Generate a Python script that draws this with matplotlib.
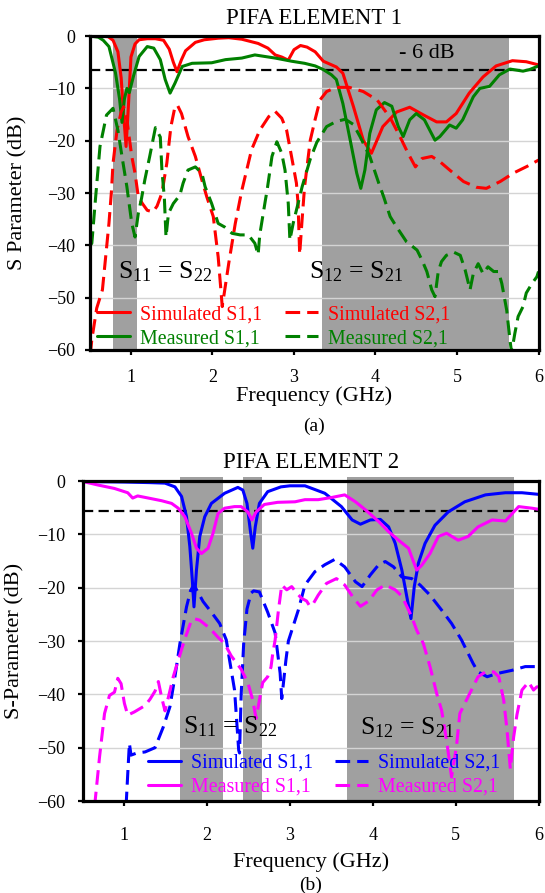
import matplotlib
matplotlib.use("Agg")
import matplotlib.pyplot as plt

plt.rcParams['font.family'] = ['Liberation Serif', 'DejaVu Serif']
plt.rcParams['mathtext.fontset'] = 'custom'
plt.rcParams['mathtext.rm'] = 'Liberation Serif'
plt.rcParams['mathtext.it'] = 'Liberation Serif:italic'

# ---------------- PIFA element 1 ----------------
e1_sim_s11_f = [0.5, 0.6, 0.72, 0.78, 0.84, 0.88, 0.91, 0.94, 0.97, 1.0, 1.05, 1.1, 1.2, 1.3,
                1.4, 1.47, 1.52, 1.565, 1.62, 1.67, 1.79, 1.9, 2.07, 2.2, 2.36, 2.56, 2.68,
                2.77, 2.85, 2.93, 3.0, 3.08, 3.16, 3.26, 3.36, 3.52, 3.6, 3.73, 3.85, 3.95,
                4.09, 4.26, 4.42, 4.58, 4.75, 4.87, 4.99, 5.15, 5.32, 5.48, 5.68, 5.85, 6.0]
e1_sim_s11_db = [0, 0, -0.1, -0.8, -3, -8, -15, -21.1, -13, -4, -1.5, -0.7, -0.5, -0.5,
                 -0.8, -2.5, -5, -6.8, -4.5, -2.8, -1.2, -0.7, -0.4, -0.3, -0.6, -1.4, -2.3,
                 -3.6, -4.0, -4.6, -2.6, -1.8, -2.1, -3.0, -4.8, -5.9, -7.1, -13.5, -19.9, -22.4,
                 -17.3, -14.5, -13.6, -15.0, -16.4, -16.4, -14.8, -10.9, -7.8, -5.7, -4.7, -4.9, -5.5]

e1_meas_s11_f = [0.5, 0.6, 0.66, 0.73, 0.81, 0.86, 0.89, 0.92, 0.95, 0.98, 1.03, 1.1, 1.2, 1.28,
                 1.36, 1.42, 1.48, 1.54, 1.63, 1.75, 1.99, 2.16, 2.36, 2.52, 2.77, 2.97, 3.13,
                 3.26, 3.36, 3.46, 3.52, 3.6, 3.69, 3.77, 3.82, 3.87, 3.93, 4.01, 4.11, 4.2,
                 4.28, 4.34, 4.42, 4.5, 4.6, 4.73, 4.79, 4.91, 4.99, 5.07, 5.2, 5.28, 5.4,
                 5.52, 5.65, 5.81, 5.89, 6.0]
e1_meas_s11_db = [0, -0.2, -0.8, -2.0, -7.0, -12, -16.5, -12, -10, -10.8, -7.7, -3.9, -2.0, -2.3,
                  -4.5, -8.3, -10.9, -9.0, -5.8, -5.2, -5.1, -4.5, -4.2, -3.6, -4.2, -4.8, -5.2,
                  -5.7, -6.4, -7.4, -8.3, -12.9, -19.9, -26.2, -29.1, -25.6, -18.6, -14.1, -12.7, -13.4,
                  -17.3, -19.2, -16.0, -14.8, -16.0, -19.9, -19.2, -17.0, -17.6, -16.0, -11.6, -10.0, -9.6,
                  -7.4, -6.3, -6.7, -6.4, -5.7]

e1_sim_s21_f = [0.5, 0.52, 0.58, 0.65, 0.73, 0.76, 0.78, 0.83, 0.88, 0.91, 0.95, 1.01, 1.05, 1.09,
                1.14, 1.2, 1.27, 1.32, 1.38, 1.44, 1.49, 1.54, 1.57, 1.62, 1.7, 1.79, 1.87, 1.93,
                2.01, 2.07, 2.12, 2.2, 2.28, 2.36, 2.44, 2.48, 2.58, 2.69, 2.77, 2.85, 2.91, 2.97,
                3.03, 3.05, 3.07, 3.1, 3.13, 3.2, 3.26, 3.32, 3.4, 3.52, 3.68, 3.85, 4.02, 4.18,
                4.3, 4.4, 4.49, 4.57, 4.69, 4.79, 4.91, 5.08, 5.24, 5.36, 5.53, 5.69, 5.86, 6.0]
e1_sim_s21_db = [-61, -58, -52, -48.5, -35.8, -29.8, -24.3, -17.9, -14.5, -13.5, -16, -23, -26.2, -30.7,
                 -32, -33.3, -33.6, -32.5, -30, -24.3, -17.3, -13.5, -13.2, -14.8, -19.2, -23, -27.5, -30.7,
                 -34.5, -42.2, -51.7, -43.4, -35.8, -29.5, -24.3, -21.7, -18, -15.4, -14.4, -15.7, -18, -23,
                 -28.1, -32, -41.7, -35, -28.8, -19.9, -15.9, -12.2, -10.6, -9.8, -9.8, -10.6, -12.2, -15.6,
                 -19.2, -22.4, -25, -23.4, -23, -24, -25.6, -27.8, -28.9, -29.1, -27.8, -26.2, -24.9, -23.7]

e1_meas_s21_f = [0.5, 0.52, 0.56, 0.62, 0.70, 0.78, 0.84, 0.89, 0.95, 1.01, 1.05, 1.09, 1.13, 1.17,
                 1.23, 1.3, 1.36, 1.38, 1.41, 1.43, 1.46, 1.52, 1.6, 1.64, 1.7, 1.79, 1.87, 1.91,
                 1.99, 2.07, 2.15, 2.24, 2.34, 2.44, 2.52, 2.56, 2.58, 2.65, 2.67, 2.73, 2.79, 2.85,
                 2.89, 2.93, 2.95, 2.99, 3.05, 3.1, 3.2, 3.28, 3.4, 3.52, 3.63, 3.73, 3.81, 3.93,
                 4.04, 4.1, 4.18, 4.26, 4.38, 4.51, 4.57, 4.63, 4.69, 4.73, 4.77, 4.81, 4.87, 4.96,
                 5.04, 5.1, 5.16, 5.2, 5.26, 5.32, 5.38, 5.45, 5.51, 5.55, 5.61, 5.65, 5.67, 5.71,
                 5.75, 5.81, 5.85, 5.92, 5.98, 6.0]
e1_meas_s21_db = [-40, -39.6, -32, -21.1, -15.1, -13.8, -18, -23, -28.8, -35.8, -38.4, -33.9, -31, -27.5,
                  -23, -17.5, -19.3, -25.6, -31, -38.4, -33.9, -32, -30.4, -28.1, -25.6, -25, -26.2, -28.8,
                  -32, -35.8, -36.5, -37.7, -38, -38, -39.6, -41.8, -38, -31.3, -29.5, -23, -20.2, -22.4,
                  -25.6, -32, -39, -35.8, -32, -28.8, -23.5, -20.3, -17.3, -16.3, -15.9, -16.9, -19.2, -23,
                  -28.1, -30.7, -34.5, -36.5, -39.3, -40.9, -42.8, -45, -48.5, -49.8, -45, -43.1, -41.9, -41.3,
                  -41.9, -44.7, -48.5, -45.4, -43.5, -45.4, -44.1, -45, -45, -47.3, -52.4, -58.1, -60.5, -56.8,
                  -53.6, -51.7, -49.1, -47.3, -46, -45]

e1_bands = [(0.783, 1.078), (3.34, 5.64)]

# ---------------- PIFA element 2 ----------------
e2_sim_s11_f = [0.5, 1.0, 1.3, 1.49, 1.61, 1.69, 1.75, 1.79, 1.82, 1.84, 1.87, 1.91, 1.97, 2.05,
                2.21, 2.37, 2.43, 2.48, 2.52, 2.55, 2.58, 2.63, 2.73, 2.89, 3.0, 3.18, 3.42, 3.62,
                3.75, 3.85, 3.97, 4.09, 4.19, 4.27, 4.35, 4.41, 4.46, 4.5, 4.55, 4.63, 4.75, 4.91,
                5.11, 5.36, 5.6, 5.8, 6.0]
e2_sim_s11_db = [-0.1, -0.2, -0.3, -0.4, -1.1, -2.9, -6.7, -12.3, -18.6, -23.6, -16.7, -10.4, -6.7, -4.2,
                 -2.3, -1.2, -1.7, -4.2, -9.2, -12.6, -8.6, -4.2, -2.0, -1.1, -0.9, -0.9, -2.3, -4.8,
                 -7.3, -8.1, -7.3, -7.2, -8.6, -11.7, -16.7, -21.7, -25.8, -19.8, -15.4, -11.7, -8.3, -5.8,
                 -3.9, -2.6, -2.2, -2.2, -2.5]

e2_meas_s11_f = [0.5, 0.68, 0.88, 1.04, 1.1, 1.16, 1.29, 1.45, 1.57, 1.65, 1.73, 1.81, 1.87, 1.93,
                 2.01, 2.07, 2.13, 2.21, 2.33, 2.41, 2.49, 2.54, 2.59, 2.69, 2.85, 3.06, 3.18, 3.34,
                 3.5, 3.66, 3.79, 3.91, 4.07, 4.19, 4.31, 4.43, 4.49, 4.53, 4.59, 4.69, 4.79, 4.89,
                 5.03, 5.15, 5.27, 5.44, 5.6, 5.76, 5.92, 6.0]
e2_meas_s11_db = [-0.1, -0.75, -1.4, -2.2, -3.2, -2.8, -3.2, -3.7, -4.2, -5.1, -6.7, -9.8, -12.6, -13.6,
                  -12.6, -9.8, -6.1, -5.1, -4.8, -4.8, -5.8, -7.3, -5.8, -4.4, -4.0, -3.9, -3.5, -3.5,
                  -3.1, -2.6, -3.9, -5.4, -7.6, -9.5, -11.1, -12.6, -15.1, -16.7, -15.8, -13.6, -10.4, -9.8,
                  -11.1, -10.4, -8.6, -7.3, -7.5, -4.8, -5.1, -5.3]

e2_sim_s21_f = [1.02, 1.04, 1.06, 1.08, 1.15, 1.25, 1.37, 1.47, 1.55, 1.61, 1.67, 1.75, 1.8, 1.84,
                1.95, 2.05, 2.15, 2.23, 2.27, 2.33, 2.38, 2.39, 2.41, 2.44, 2.48, 2.53, 2.56, 2.63,
                2.73, 2.82, 2.88, 2.9, 2.95, 2.98, 3.1, 3.18, 3.3, 3.42, 3.54, 3.66, 3.79, 3.87,
                3.97, 4.07, 4.15, 4.25, 4.35, 4.47, 4.57, 4.69, 4.83, 4.95, 5.07, 5.21, 5.27, 5.38,
                5.5, 5.68, 5.84, 6.0]
e2_sim_s21_db = [-61, -55, -49.2, -51.4, -51, -50.8, -50, -46.1, -42.3, -36.7, -30.5, -23.6, -20.5, -19.5,
                 -22.6, -24.6, -26.7, -29.8, -33.6, -39.2, -50.5, -51, -40, -30.5, -24, -21, -20.6, -20.8,
                 -24.6, -28.5, -36, -40.8, -33.6, -30, -24.2, -19.5, -17.0, -15.7, -14.7, -16.1, -18.9, -19.8,
                 -17.6, -15.7, -15.1, -16.1, -18.0, -18.3, -19.5, -21.4, -24.2, -26.7, -29.8, -34.2, -35.8, -36.7,
                 -36.1, -35.5, -34.8, -34.8]

e2_meas_s21_f = [0.64, 0.7, 0.76, 0.82, 0.88, 0.92, 0.96, 1.0, 1.04, 1.12, 1.25, 1.31, 1.37, 1.41,
                 1.45, 1.49, 1.53, 1.59, 1.65, 1.73, 1.81, 1.84, 1.91, 2.03, 2.13, 2.21, 2.29, 2.41,
                 2.49, 2.55, 2.59, 2.63, 2.67, 2.73, 2.77, 2.79, 2.82, 2.86, 2.9, 2.96, 3.02, 3.08,
                 3.14, 3.2, 3.24, 3.28, 3.34, 3.44, 3.56, 3.66, 3.77, 3.85, 3.95, 4.05, 4.15, 4.27,
                 4.35, 4.41, 4.47, 4.53, 4.61, 4.69, 4.77, 4.83, 4.89, 4.95, 5.01, 5.05, 5.11, 5.19,
                 5.27, 5.36, 5.46, 5.52, 5.58, 5.62, 5.66, 5.7, 5.74, 5.8, 5.88, 5.94, 5.98, 6.0]
e2_meas_s21_db = [-61, -51.7, -43.6, -40.2, -39.6, -37, -38, -41.7, -43.9, -43.3, -42.1, -40.9, -39.4, -37.6,
                  -40.6, -43.1, -40.6, -36.7, -33.6, -29.6, -26.1, -25.8, -26.1, -27.6, -29.3, -30.5, -32.8, -35.3,
                  -37.8, -41.1, -44.5, -41.1, -37.8, -36.7, -34.9, -32.5, -29.8, -24.2, -19.5, -20.4, -19.8, -21.0,
                  -22.0, -22.5, -23.5, -23, -21.4, -19.2, -18.3, -19.5, -22, -23.5, -22.5, -20.4, -19.5, -20.4,
                  -21.6, -23.5, -25.5, -28, -30.5, -34.8, -39.8, -43, -48.6, -55.5, -49.7, -43.6, -41.7, -39.2,
                  -36.7, -35.8, -35.8, -36.7, -41.1, -46.7, -54, -48, -43.8, -39.2, -37.7, -39.2, -38.6, -38.6]

e2_bands = [(1.668, 2.19), (2.43, 2.66), (3.69, 5.70)]

legend_labels = ['Simulated S1,1', 'Measured S1,1', 'Simulated S2,1', 'Measured S2,1']
y_ticks = [0, -10, -20, -30, -40, -50, -60]
x_ticks = [1, 2, 3, 4, 5, 6]

W, H = 545, 893
fig = plt.figure(figsize=(W / 100, H / 100), dpi=100)


def px_axes(left, top, right, bottom):
    return fig.add_axes([left / W, 1 - bottom / H, (right - left) / W, (bottom - top) / H])


LW = 2.2
DASH = (4.8, 2.3)


def panel(ax, bands, series, colors, ref_db, band_top, ylabel, ylab_x, xpad, ypad, labelpad):
    for lo, hi in bands:
        ax.axvspan(lo, hi, ymin=0, ymax=band_top, color='#a0a0a0', lw=0, zorder=0.5,
                   clip_on=False)
    ax.set_xlim(0.5, 6)
    ax.set_ylim(-60, 0)
    ax.set_xticks(x_ticks)
    ax.set_yticks(y_ticks)
    ax.yaxis.grid(True, color='#d4d4d4', lw=1.0, zorder=1)
    ax.set_axisbelow(False)
    for sp in ax.spines.values():
        sp.set_linewidth(2.3)
        sp.set_zorder(5)
    ax.tick_params(direction='out', length=3.6, width=1.6, labelsize=13)
    ax.tick_params(axis='x', pad=xpad)
    ax.tick_params(axis='y', pad=ypad)
    ax.axhline(ref_db, color='black', lw=1.6, dashes=(4.6, 2.4), zorder=3)
    handles = []
    for (f, db), c, ls in zip(series, colors, ['-', '-', '--', '--']):
        if ls == '-':
            ln, = ax.plot(f, db, color=c, lw=LW, zorder=4, solid_capstyle='round')
        else:
            ln, = ax.plot(f, db, color=c, lw=LW, dashes=DASH, zorder=4)
        handles.append(ln)
    ax.set_xlabel('Frequency (GHz)', fontsize=16, labelpad=labelpad)
    ax.set_ylabel(ylabel, fontsize=16, va='center')
    ax.yaxis.set_label_coords(ylab_x, 0.5)
    return handles


# panel (a)
ax1 = px_axes(90.2, 36.1, 538.5, 350)
h1 = panel(ax1, e1_bands,
           [(e1_sim_s11_f, e1_sim_s11_db), (e1_meas_s11_f, e1_meas_s11_db),
            (e1_sim_s21_f, e1_sim_s21_db), (e1_meas_s21_f, e1_meas_s21_db)],
           ['#ff0000', '#008000', '#ff0000', '#008000'], -6.4, 1.0,
           'S Parameter (dB)', (18 - 90.2) / 448.3, 10, 7, 0)
ax1.text(4.63, -3.3, '- 6 dB', fontsize=16, ha='center', va='center', zorder=6)
ax1.text(0.845, -45, r'S$_\mathregular{11}$ = S$_\mathregular{22}$', fontsize=18.5,
         ha='left', va='center', zorder=6)
ax1.text(3.19, -45, r'S$_\mathregular{12}$ = S$_\mathregular{21}$', fontsize=18.5,
         ha='left', va='center', zorder=6)
ax1.legend(h1, legend_labels, ncol=2, loc='lower left', bbox_to_anchor=(0.0145, 0.006),
           frameon=False, fontsize=14.4, handlelength=1.65, handletextpad=0.5,
           columnspacing=1.15, labelspacing=0.25, borderpad=0, borderaxespad=0,
           labelcolor='linecolor')
fig.text(314 / W, 1 - 18.3 / H, 'PIFA ELEMENT 1', fontsize=16.5, ha='center', va='center')
fig.text(314 / W, 1 - 426 / H, '(a)', fontsize=14, ha='center', va='center')

# panel (b)
ax2 = px_axes(83, 481, 538.5, 801)
h2 = panel(ax2, e2_bands,
           [(e2_sim_s11_f, e2_sim_s11_db), (e2_meas_s11_f, e2_meas_s11_db),
            (e2_sim_s21_f, e2_sim_s21_db), (e2_meas_s21_f, e2_meas_s21_db)],
           ['#0000ff', '#ff00ff', '#0000ff', '#ff00ff'], -5.6, 1.012,
           'S-Parameter (dB)', (14.5 - 83) / 455.5, 15, 9, 6)
ax2.text(1.71, -46.1, r'S$_\mathregular{11}$ = S$_\mathregular{22}$', fontsize=18.5,
         ha='left', va='center', zorder=6)
ax2.text(3.85, -46.2, r'S$_\mathregular{12}$ = S$_\mathregular{21}$', fontsize=18.5,
         ha='left', va='center', zorder=6)
ax2.legend(h2, legend_labels, ncol=2, loc='lower left', bbox_to_anchor=(0.1427, 0.014),
           frameon=False, fontsize=14.4, handlelength=1.65, handletextpad=0.5,
           columnspacing=1.1, labelspacing=0.25, borderpad=0, borderaxespad=0,
           labelcolor='linecolor')
fig.text(311 / W, 1 - 462.5 / H, 'PIFA ELEMENT 2', fontsize=16.5, ha='center', va='center')
fig.text(311 / W, 1 - 885 / H, '(b)', fontsize=14, ha='center', va='center')

fig.savefig('out.png', dpi=100)
